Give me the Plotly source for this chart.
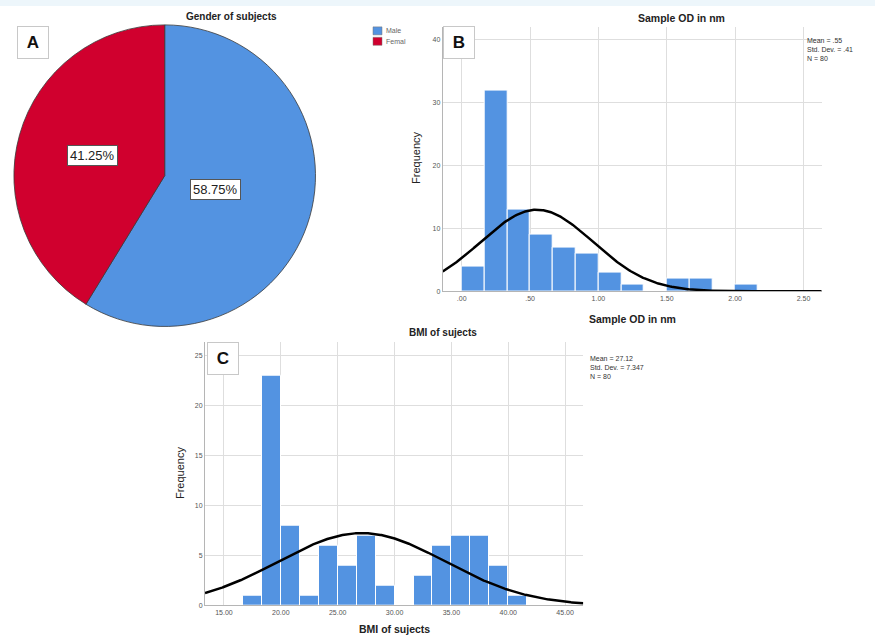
import numpy as np
import plotly.graph_objects as go

# ---------------- data ----------------
gender_labels = ["Male", "Femal"]
gender_counts = [47, 33]

od_bin_start = 0.0
od_bin_width = 1 / 6
od_counts = [4, 32, 13, 9, 7, 6, 3, 1, 0, 2, 2, 0, 1]
od_mean, od_sd, od_n = 0.55, 0.41, 80
od_ticks = [0.0, 0.5, 1.0, 1.5, 2.0, 2.5]
od_ticklabels = [".00", ".50", "1.00", "1.50", "2.00", "2.50"]
od_yticks = [0, 10, 20, 30, 40]

bmi_bin_start = 50 / 3
bmi_bin_width = 5 / 3
bmi_counts = [1, 23, 8, 1, 6, 4, 7, 2, 0, 3, 6, 7, 7, 4, 1]
bmi_mean, bmi_sd, bmi_n = 27.12, 7.347, 80
bmi_ticks = [15, 20, 25, 30, 35, 40, 45]
bmi_ticklabels = ["15.00", "20.00", "25.00", "30.00", "35.00", "40.00", "45.00"]
bmi_yticks = [0, 5, 10, 15, 20, 25]

# ---------------- styles / layout constants ----------------
W, H = 875, 641
BLUE = "#5393e1"
RED = "#d0002e"
PIE_COLORS = [BLUE, RED]
GRID = "#dedede"
FONT = "Liberation Sans"


def px(x):
    return x / W


def py(y):
    return 1 - y / H


pie_box = (12.7, 25, 316.7, 328)          # left, top, right, bottom (px)
b_box = (442.7, 26.7, 821.7, 292.7)
c_box = (205, 343.3, 583.3, 608.3)
od_range = [-0.139, 2.633]
od_yrange = [0, 42.1]
bmi_range = [13.33, 46.6]
bmi_yrange = [0, 26.4]

fig = go.Figure()

# ---------------- A: pie ----------------
fig.add_trace(go.Pie(
    labels=gender_labels, values=gender_counts, sort=False,
    direction="clockwise", rotation=0,
    marker=dict(colors=PIE_COLORS, line=dict(color="#3a3a3a", width=0.8)),
    textinfo="none", hoverinfo="label+percent", showlegend=False,
    domain=dict(x=[px(pie_box[0]), px(pie_box[2])], y=[py(pie_box[3]), py(pie_box[1])]),
))

# pie percentage labels at slice centroids
cx = (pie_box[0] + pie_box[2]) / 2
cy = (pie_box[1] + pie_box[3]) / 2
R = (pie_box[2] - pie_box[0]) / 2
total = sum(gender_counts)
annotations = []
start = 0.0
for lab, v in zip(gender_labels, gender_counts):
    frac = v / total
    half = np.pi * frac          # half angle (rad)
    mid = 2 * np.pi * start + half
    d = 2 * R * np.sin(half) / (3 * half)
    lx = cx + d * np.sin(mid)
    ly = cy - d * np.cos(mid)
    annotations.append(dict(
        x=px(lx), y=py(ly), xref="paper", yref="paper", showarrow=False,
        xanchor="center", yanchor="middle",
        text=f"{frac*100:.2f}%", font=dict(family=FONT, size=13, color="#222"),
        bgcolor="white", bordercolor="#555", borderwidth=1, borderpad=2,
    ))
    start += frac

# ---------------- B: OD histogram ----------------
od_edges = od_bin_start + od_bin_width * np.arange(len(od_counts))
fig.add_trace(go.Bar(
    x=od_edges + od_bin_width / 2, y=od_counts, width=od_bin_width,
    marker=dict(color=BLUE, line=dict(color="white", width=1)),
    xaxis="x", yaxis="y", showlegend=False,
))
xs = np.linspace(od_range[0], od_range[1], 400)
fig.add_trace(go.Scatter(
    x=xs, y=od_n * od_bin_width * np.exp(-0.5 * ((xs - od_mean) / od_sd) ** 2) / (od_sd * np.sqrt(2 * np.pi)),
    mode="lines", line=dict(color="black", width=2.5), xaxis="x", yaxis="y", showlegend=False,
))

# ---------------- C: BMI histogram ----------------
bmi_edges = bmi_bin_start + bmi_bin_width * np.arange(len(bmi_counts))
fig.add_trace(go.Bar(
    x=bmi_edges + bmi_bin_width / 2, y=bmi_counts, width=bmi_bin_width,
    marker=dict(color=BLUE, line=dict(color="white", width=1)),
    xaxis="x2", yaxis="y2", showlegend=False,
))
xs2 = np.linspace(bmi_range[0], bmi_range[1], 400)
fig.add_trace(go.Scatter(
    x=xs2, y=bmi_n * bmi_bin_width * np.exp(-0.5 * ((xs2 - bmi_mean) / bmi_sd) ** 2) / (bmi_sd * np.sqrt(2 * np.pi)),
    mode="lines", line=dict(color="black", width=2.5), xaxis="x2", yaxis="y2", showlegend=False,
))

tickfont = dict(family=FONT, size=7, color="#555")
axcommon = dict(showgrid=True, gridcolor=GRID, gridwidth=1, zeroline=False,
                showline=True, linecolor="#b5b5b5", linewidth=1, ticks="",
                tickfont=tickfont, fixedrange=True)

fig.update_layout(
    width=W, height=H, margin=dict(l=0, r=0, t=0, b=0),
    paper_bgcolor="white", plot_bgcolor="white", bargap=0,
    font=dict(family=FONT),
    xaxis=dict(domain=[px(b_box[0]), px(b_box[2])], range=od_range, anchor="y",
               tickmode="array", tickvals=od_ticks, ticktext=od_ticklabels, **axcommon),
    yaxis=dict(domain=[py(b_box[3]), py(b_box[1])], range=od_yrange, anchor="x",
               tickmode="array", tickvals=od_yticks, **axcommon),
    xaxis2=dict(domain=[px(c_box[0]), px(c_box[2])], range=bmi_range, anchor="y2",
                tickmode="array", tickvals=bmi_ticks, ticktext=bmi_ticklabels, **axcommon),
    yaxis2=dict(domain=[py(c_box[3]), py(c_box[1])], range=bmi_yrange, anchor="x2",
                tickmode="array", tickvals=bmi_yticks, **axcommon),
)


def text_ann(x, y, text, size, bold=False, angle=0, color="#222", xanchor="center", yanchor="middle", align="center"):
    return dict(x=px(x), y=py(y), xref="paper", yref="paper", showarrow=False,
                text=f"<b>{text}</b>" if bold else text, textangle=angle,
                font=dict(family=FONT, size=size, color=color),
                xanchor=xanchor, yanchor=yanchor, align=align)


# titles
annotations += [
    text_ann(231.7, 16.7, "Gender of subjects", 10, bold=True),
    text_ann(681.7, 18.3, "Sample OD in nm", 10.5, bold=True),
    text_ann(632.5, 320, "Sample OD in nm", 10.5, bold=True),
    text_ann(416.7, 159, "Frequency", 11, angle=-90),
    text_ann(443, 334, "BMI of sujects", 10, bold=True),
    text_ann(394.6, 632, "BMI of sujects", 10.5, bold=True),
    text_ann(179.3, 475, "Frequency", 11, angle=-90),
]

# stats boxes
annotations += [
    text_ann(805, 35, f"Mean = {od_mean:.2f}".replace("0.", ".") + f"<br>Std. Dev. = {od_sd:.2f}".replace("0.", ".") + f"<br>N = {od_n}",
             7, color="#333", xanchor="left", yanchor="top", align="left"),
    text_ann(588, 355, f"Mean = {bmi_mean:.2f}<br>Std. Dev. = {bmi_sd:.3f}<br>N = {bmi_n}",
             7, color="#333", xanchor="left", yanchor="top", align="left"),
]

# panel letters
for letter, (lx, ly) in zip(["A", "B", "C"], [(17, 26), (443, 26), (207, 344)]):
    annotations.append(dict(
        x=px(lx), y=py(ly), xref="paper", yref="paper", showarrow=False,
        text=f"<b>{letter}</b>", xanchor="left", yanchor="top", width=28, height=29,
        font=dict(family=FONT, size=17, color="#111"),
        bgcolor="white", bordercolor="#c8c8c8", borderwidth=1, borderpad=1,
    ))

# manual legend for the pie
shapes = [dict(type="rect", xref="paper", yref="paper", x0=0, x1=1, y0=py(6), y1=1,
               fillcolor="#edf6fb", line=dict(width=0), layer="below")]
for i, (lab, col) in enumerate(zip(gender_labels, PIE_COLORS)):
    top = 27 + i * 10.5
    shapes.append(dict(type="rect", xref="paper", yref="paper",
                       x0=px(373), x1=px(382), y0=py(top + 8), y1=py(top),
                       fillcolor=col, line=dict(color="#777", width=0.5)))
    annotations.append(text_ann(383.5, top + 4, lab, 7, color="#666", xanchor="left"))

fig.update_layout(annotations=annotations, shapes=shapes)
fig.write_html("out.html", config={"displayModeBar": False},
               post_script="document.body.style.margin='0';document.body.style.padding='0';")
